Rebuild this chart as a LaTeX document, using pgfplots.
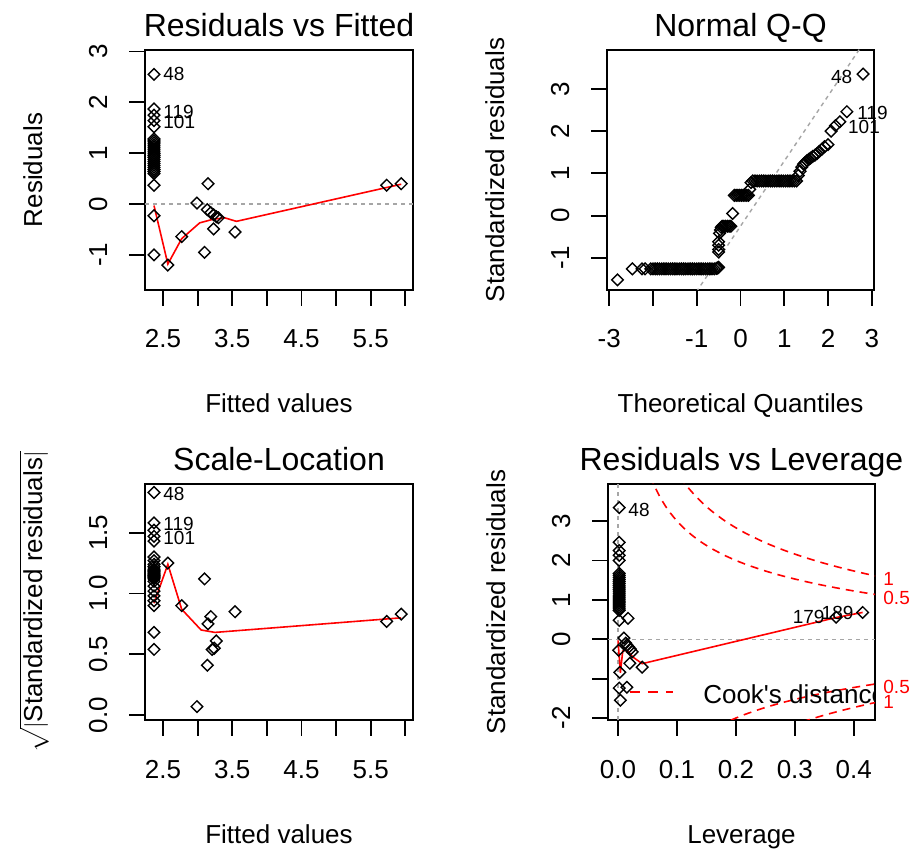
\documentclass[border=0pt]{standalone}
\usepackage{fontspec}
\setmainfont{Liberation Sans}
\newfontfamily\plainsans{Liberation Sans}
\usepackage{amsmath}
\usepackage{pgfplots}
\pgfplotsset{compat=1.18}

\newcommand\fT{\fontsize{16bp}{19bp}\selectfont}
\newcommand\fL{\fontsize{13bp}{15bp}\selectfont}
\newcommand\fP{\fontsize{9.5bp}{11bp}\selectfont}

\pgfplotsset{
  rplot/.style={
    scale only axis, anchor=south west,
    axis line style={line width=0.9bp},
    every tick/.style={black, line width=0.9bp},
    tick align=outside, major tick length=8bp,
    xtick pos=bottom, ytick pos=left,
    xticklabel style={font=\fL, anchor=base},
    yticklabel style={font=\fL, rotate=90, anchor=base},
    xticklabel shift=21bp, yticklabel shift=11bp,
  },
  pts/.style={only marks, mark=square, mark size=2.05bp,
    mark options={rotate=45, line width=0.7bp, black, fill=none}},
  lowess/.style={red, line width=0.8bp, mark=none},
  rgrey/.style={gray!70, line width=0.7bp, dash pattern=on 2bp off 2bp, mark=none},
  cook/.style={red, line width=0.8bp, dash pattern=on 4bp off 3bp, mark=none, smooth},
}

\begin{document}
\begin{tikzpicture}
\fill[white] (0,0) rectangle (454.5bp,429.5bp);
\useasboundingbox (0,0) rectangle (454.5bp,429.5bp);

% ---------------- Residuals vs Fitted
\begin{axis}[rplot, name=p1, at={(72.5bp,284.5bp)}, width=134bp, height=120bp,
  xmin=2.24, xmax=6.11, ymin=-1.69, ymax=3.03,
  xtick={2.5,3,3.5,4,4.5,5,5.5,6}, xticklabels={2.5,{},3.5,{},4.5,{},5.5,{}},
  ytick={-1,0,1,2,3}, yticklabels={-1,0,1,2,3}]
\addplot[pts] coordinates {
 (2.37,2.55) (2.37,1.87) (2.37,1.75) (2.37,1.64) (2.37,1.52)
 (2.37,1.28) (2.37,1.24) (2.37,1.20) (2.37,1.16) (2.37,1.12) (2.37,1.08)
 (2.37,1.04) (2.37,1.00) (2.37,0.96) (2.37,0.92) (2.37,0.88) (2.37,0.84)
 (2.37,0.80) (2.37,0.76) (2.37,0.72) (2.37,0.68) (2.37,0.64) (2.37,0.60)
 (2.37,0.37) (2.37,-0.23) (2.37,-1.00)
 (2.57,-1.20) (2.77,-0.64) (2.99,0.02) (3.10,-0.95) (3.15,0.40) (3.14,-0.11)
 (3.19,-0.17) (3.23,-0.21) (3.27,-0.25) (3.30,-0.27) (3.23,-0.49) (3.54,-0.55)
 (5.73,0.37) (5.94,0.40)
};
\addplot[rgrey] coordinates {(2.24,0) (6.11,0)};
\addplot[lowess] coordinates {
 (2.37,-0.03) (2.57,-1.18) (2.77,-0.68) (3.03,-0.37) (3.22,-0.30) (3.39,-0.27) (3.56,-0.34) (5.94,0.39)
};
\coordinate (a1) at (axis cs:2.50,2.55);
\coordinate (b1) at (axis cs:2.50,1.82);
\coordinate (c1) at (axis cs:2.50,1.61);
\end{axis}
\node[font=\fP, anchor=west, inner sep=0pt] at (a1) {48};
\node[font=\fP, anchor=west, inner sep=0pt] at (b1) {119};
\node[font=\fP, anchor=west, inner sep=0pt] at (c1) {101};
\node[font=\fT, anchor=base] at ([yshift=6.5bp]p1.north) {Residuals vs Fitted};
\node[font=\fL, anchor=base] at ([yshift=-61.5bp]p1.south) {Fitted values};
\node[font=\fL, anchor=base, rotate=90] at ([xshift=-51.5bp]p1.west) {Residuals};

% ---------------- Normal Q-Q
\begin{axis}[rplot, name=p2, at={(303.5bp,284.5bp)}, width=133.5bp, height=120bp,
  xmin=-3.05, xmax=3.05, ymin=-1.76, ymax=3.92,
  xtick={-3,-2,-1,0,1,2,3}, xticklabels={-3,{},-1,0,1,2,3},
  ytick={-1,0,1,2,3}, yticklabels={-1,0,1,2,3}]
\addplot[pts] coordinates {
 (-2.81,-1.52) (-2.47,-1.26) (-2.25,-1.26) (-2.18,-1.26)
 (-2.05,-1.26) (-2.00,-1.26) (-1.95,-1.26) (-1.90,-1.26) (-1.85,-1.26) (-1.80,-1.26)
 (-1.75,-1.26) (-1.70,-1.26) (-1.65,-1.26) (-1.60,-1.26) (-1.55,-1.26) (-1.50,-1.26)
 (-1.45,-1.26) (-1.40,-1.26) (-1.35,-1.26) (-1.30,-1.26) (-1.25,-1.26) (-1.20,-1.26)
 (-1.15,-1.26) (-1.10,-1.26) (-1.05,-1.26) (-1.00,-1.26) (-0.95,-1.26) (-0.90,-1.26)
 (-0.85,-1.26) (-0.80,-1.26) (-0.75,-1.26) (-0.70,-1.26) (-0.65,-1.26) (-0.60,-1.26)
 (-0.55,-1.25) (-0.52,-1.24) (-0.50,-1.22)
 (-0.50,-0.86) (-0.50,-0.80) (-0.50,-0.70) (-0.50,-0.62)
 (-0.48,-0.42) (-0.46,-0.34) (-0.44,-0.28) (-0.42,-0.25) (-0.38,-0.25) (-0.34,-0.25)
 (-0.30,-0.25) (-0.26,-0.25) (-0.22,-0.25)
 (-0.18,0.05)
 (-0.14,0.48) (-0.10,0.48) (-0.06,0.48) (-0.02,0.48) (0.02,0.48) (0.06,0.48)
 (0.10,0.48) (0.14,0.48) (0.18,0.48)
 (0.21,0.62) (0.24,0.78) (0.28,0.82) (0.33,0.82) (0.38,0.82) (0.43,0.82) (0.48,0.82)
 (0.53,0.82) (0.58,0.82) (0.63,0.82) (0.68,0.82) (0.73,0.82) (0.78,0.82) (0.83,0.82)
 (0.88,0.82) (0.93,0.82) (0.98,0.82) (1.03,0.82) (1.08,0.82) (1.13,0.82) (1.18,0.82)
 (1.23,0.82) (1.28,0.82)
 (1.32,0.95) (1.36,1.05) (1.40,1.15) (1.44,1.22) (1.48,1.26) (1.52,1.30) (1.56,1.33)
 (1.60,1.36) (1.65,1.40) (1.70,1.43) (1.75,1.47) (1.80,1.52) (1.86,1.57) (1.92,1.63)
 (2.00,1.68) (2.07,2.00) (2.17,2.13) (2.27,2.22) (2.43,2.46) (2.80,3.35)
};
\addplot[rgrey] coordinates {(-3.05,-4.95) (3.05,4.45)};
\coordinate (a2) at (axis cs:2.56,3.27);
\coordinate (b2) at (axis cs:2.66,2.43);
\coordinate (c2) at (axis cs:2.45,2.11);
\end{axis}
\node[font=\fP, anchor=east, inner sep=0pt] at (a2) {48};
\node[font=\fP, anchor=west, inner sep=0pt] at (b2) {119};
\node[font=\fP, anchor=west, inner sep=0pt] at (c2) {101};
\node[font=\fT, anchor=base] at ([yshift=6.5bp]p2.north) {Normal Q-Q};
\node[font=\fL, anchor=base] at ([yshift=-61.5bp]p2.south) {Theoretical Quantiles};
\node[font=\fL, anchor=base, rotate=90] at ([xshift=-51.5bp]p2.west) {Standardized residuals};

% ---------------- Scale-Location
\begin{axis}[rplot, name=p3, at={(72.5bp,69.5bp)}, width=134bp, height=118bp,
  xmin=2.24, xmax=6.11, ymin=-0.04, ymax=1.90,
  xtick={2.5,3,3.5,4,4.5,5,5.5,6}, xticklabels={2.5,{},3.5,{},4.5,{},5.5,{}},
  ytick={0,0.5,1,1.5}, yticklabels={0.0,0.5,1.0,1.5}]
\addplot[pts] coordinates {
 (2.37,1.83) (2.37,1.58) (2.37,1.52) (2.37,1.47) (2.37,1.43)
 (2.37,1.30) (2.37,1.27) (2.37,1.24) (2.37,1.22) (2.37,1.20) (2.37,1.19) (2.37,1.18)
 (2.37,1.17) (2.37,1.16) (2.37,1.15) (2.37,1.14) (2.37,1.13) (2.37,1.12) (2.37,1.10)
 (2.37,1.06) (2.37,1.02) (2.37,0.98) (2.37,0.94) (2.37,0.90) (2.37,0.68) (2.37,0.54)
 (2.57,1.25) (2.77,0.90) (2.99,0.07) (3.10,1.12) (3.14,0.41) (3.15,0.75) (3.19,0.81)
 (3.21,0.54) (3.24,0.55) (3.27,0.61) (3.54,0.85) (5.73,0.77) (5.94,0.83)
};
\addplot[lowess] coordinates {
 (2.37,0.92) (2.57,1.24) (2.77,0.87) (3.05,0.70) (3.25,0.68) (5.94,0.80)
};
\coordinate (a3) at (axis cs:2.50,1.82);
\coordinate (b3) at (axis cs:2.50,1.57);
\coordinate (c3) at (axis cs:2.50,1.46);
\end{axis}
\node[font=\fP, anchor=west, inner sep=0pt] at (a3) {48};
\node[font=\fP, anchor=west, inner sep=0pt] at (b3) {119};
\node[font=\fP, anchor=west, inner sep=0pt] at (c3) {101};
\node[font=\fT, anchor=base] at ([yshift=6.5bp]p3.north) {Scale-Location};
\node[font=\fL, anchor=base] at ([yshift=-61.5bp]p3.south) {Fitted values};
\node[font=\fL, anchor=base, rotate=90] at ([xshift=-51.5bp]p3.west) {$\sqrt{|\text{Standardized residuals}|}$};

% ---------------- Residuals vs Leverage
\begin{axis}[rplot, name=p4, at={(304bp,69.5bp)}, width=133.5bp, height=118bp,
  xmin=-0.017, xmax=0.436, ymin=-2.05, ymax=3.94,
  xtick={0,0.1,0.2,0.3,0.4}, xticklabels={0.0,0.1,0.2,0.3,0.4},
  ytick={-2,-1,0,1,2,3}, yticklabels={-2,{},0,1,2,3}]
\addplot[rgrey] coordinates {(-0.017,0) (0.436,0)};
\addplot[rgrey] coordinates {(0,-2.05) (0,3.94)};
\addplot[pts] coordinates {
 (0.002,3.34) (0.002,2.46) (0.002,2.25) (0.002,2.13) (0.002,2.00)
 (0.002,1.67) (0.002,1.62) (0.002,1.57) (0.002,1.52) (0.002,1.47) (0.002,1.42)
 (0.002,1.37) (0.002,1.32) (0.002,1.27) (0.002,1.22) (0.002,1.17) (0.002,1.12)
 (0.002,1.07) (0.002,1.02) (0.002,0.97) (0.002,0.92) (0.002,0.87) (0.002,0.82)
 (0.002,0.77) (0.002,0.73) (0.002,0.48) (0.001,-0.28) (0.002,-1.24)
 (0.017,0.53) (0.004,-1.55) (0.003,-0.84) (0.010,0.03) (0.013,-0.10) (0.015,-0.15)
 (0.018,-0.20) (0.021,-0.25) (0.024,-0.32) (0.015,-1.22) (0.020,-0.61) (0.041,-0.71)
 (0.370,0.56) (0.415,0.68)
};
\addplot[lowess] coordinates {
 (0.000,-0.03) (0.004,-0.85) (0.008,-0.30) (0.015,-0.28) (0.025,-0.45) (0.041,-0.62) (0.370,0.55) (0.415,0.68)
};
\addplot[cook] coordinates {
 (0.055,4.145) (0.060,3.958) (0.065,3.793) (0.070,3.645) (0.075,3.512) (0.080,3.391)
 (0.085,3.281) (0.090,3.180) (0.100,3.000) (0.110,2.845) (0.120,2.708) (0.130,2.587)
 (0.140,2.478) (0.150,2.380) (0.160,2.291) (0.180,2.134) (0.200,2.000) (0.220,1.883)
 (0.250,1.732) (0.280,1.604) (0.310,1.492) (0.340,1.393) (0.370,1.305) (0.400,1.225)
 (0.430,1.151) (0.440,1.128)
};
\addplot[cook] coordinates {
 (0.105,4.129) (0.110,4.023) (0.120,3.830) (0.130,3.659) (0.140,3.505) (0.150,3.367)
 (0.160,3.240) (0.180,3.018) (0.200,2.828) (0.220,2.663) (0.250,2.449) (0.280,2.268)
 (0.310,2.110) (0.340,1.970) (0.370,1.845) (0.400,1.732) (0.430,1.628) (0.440,1.595)
};
\addplot[cook] coordinates {
 (0.170,-2.210) (0.180,-2.134) (0.200,-2.000) (0.220,-1.883) (0.250,-1.732)
 (0.280,-1.604) (0.310,-1.492) (0.340,-1.393) (0.370,-1.305) (0.400,-1.225)
 (0.430,-1.151) (0.440,-1.128)
};
\addplot[cook] coordinates {
 (0.290,-2.213) (0.300,-2.160) (0.310,-2.110) (0.340,-1.970) (0.370,-1.845)
 (0.400,-1.732) (0.430,-1.628) (0.440,-1.595)
};
\addplot[red, line width=0.8bp, dash pattern=on 5bp off 4bp] coordinates {(0.020,-1.34) (0.093,-1.34)};
\node[font=\fL\plainsans, anchor=west, inner sep=0pt] at (axis cs:0.144,-1.39) {Cook's distance};
\coordinate (a4) at (axis cs:0.017,3.29);
\coordinate (b4) at (axis cs:0.351,0.56);
\coordinate (c4) at (axis cs:0.400,0.66);
\coordinate (k1) at (axis cs:0.436,1.54);
\coordinate (k2) at (axis cs:0.436,1.06);
\coordinate (k3) at (axis cs:0.436,-1.21);
\coordinate (k4) at (axis cs:0.436,-1.60);
\end{axis}
\node[font=\fP, anchor=west, inner sep=0pt] at (a4) {48};
\node[font=\fP, anchor=east, inner sep=0pt] at (b4) {179};
\node[font=\fP, anchor=east, inner sep=0pt] at (c4) {189};
\node[font=\fP, text=red, anchor=west, inner sep=0pt] at ([xshift=4bp]k1) {1};
\node[font=\fP, text=red, anchor=west, inner sep=0pt] at ([xshift=4bp]k2) {0.5};
\node[font=\fP, text=red, anchor=west, inner sep=0pt] at ([xshift=4bp]k3) {0.5};
\node[font=\fP, text=red, anchor=west, inner sep=0pt] at ([xshift=4bp]k4) {1};
\node[font=\fT, anchor=base] at ([yshift=6.5bp]p4.north) {Residuals vs Leverage};
\node[font=\fL, anchor=base] at ([yshift=-61.5bp]p4.south) {Leverage};
\node[font=\fL, anchor=base, rotate=90] at ([xshift=-51.5bp]p4.west) {Standardized residuals};
\end{tikzpicture}
\end{document}
